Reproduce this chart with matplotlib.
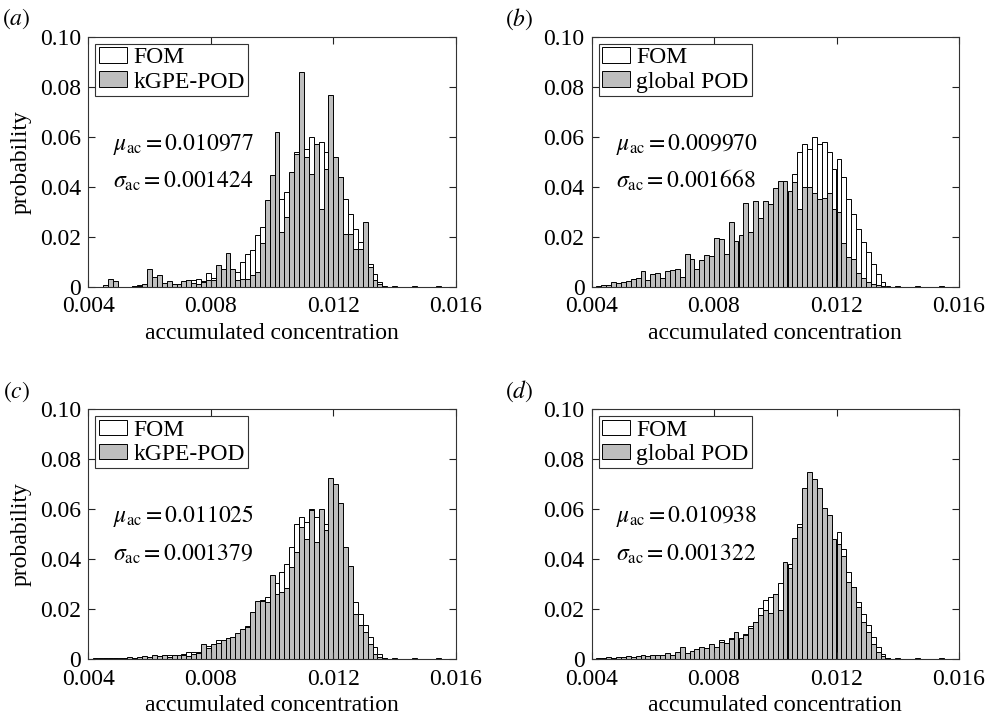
import numpy as np
import matplotlib.pyplot as plt

plt.rcParams['font.family'] = ['Liberation Serif', 'DejaVu Serif']
plt.rcParams['mathtext.fontset'] = 'stix'
plt.rcParams['font.size'] = 17

# histogram bins: 75 bins of width 1.6e-4 starting at 0.004
bin_start = 0.004
bin_width = 0.00016

# probability per bin, full order model (same reference in every panel)
fom = [0, 0, 0, 0.0003, 0.0005, 0.0005, 0, 0, 0, 0.0003, 0.0005, 0.0005, 0.0010, 0.0010, 0.0012,
       0.0012, 0.0015, 0.0012, 0.0012, 0.0020, 0.0027, 0.0027, 0.0030, 0.0024, 0.0053, 0.0035, 0.0075, 0.0065, 0.0085, 0.0065,
       0.0060, 0.0100, 0.0132, 0.0147, 0.0206, 0.0237, 0.0250, 0.0260, 0.0305, 0.0350, 0.0380, 0.0450, 0.0540, 0.0570, 0.0550,
       0.0600, 0.0570, 0.0580, 0.0540, 0.0470, 0.0510, 0.0440, 0.0350, 0.0290, 0.0230, 0.0180, 0.0138, 0.0090, 0.0050, 0.0020,
       0.0003, 0, 0.0003, 0, 0, 0, 0.0003, 0, 0, 0, 0, 0.0003, 0, 0, 0]

kgpe_a = [0, 0, 0, 0.0006, 0.0030, 0.0024, 0, 0, 0, 0.0003, 0.0003, 0.0012, 0.0070, 0.0040, 0.0048,
          0.0015, 0.0024, 0.0012, 0.0012, 0.0024, 0.0027, 0.0016, 0.0012, 0.0020, 0.0028, 0.0027, 0.0085, 0.0072, 0.0133, 0.0072,
          0.0028, 0.0030, 0.0030, 0.0048, 0.0060, 0.0175, 0.0348, 0.0445, 0.0620, 0.0220, 0.0280, 0.0460, 0.0530, 0.0860, 0.0520,
          0.0450, 0.0570, 0.0310, 0.0470, 0.0765, 0.0520, 0.0440, 0.0210, 0.0210, 0.0150, 0.0150, 0.0257, 0.0077, 0.0027, 0.0010,
          0, 0, 0, 0, 0, 0, 0, 0, 0, 0, 0, 0, 0, 0, 0]

gpod_b = [0, 0.0003, 0.0008, 0.0008, 0.0017, 0.0013, 0.0017, 0.0021, 0.0031, 0.0036, 0.0061, 0.0027, 0.0049, 0.0053, 0.0033,
          0.0061, 0.0068, 0.0071, 0.0040, 0.0131, 0.0109, 0.0072, 0.0105, 0.0128, 0.0123, 0.0195, 0.0191, 0.0131, 0.0257, 0.0181,
          0.0208, 0.0335, 0.0219, 0.0341, 0.0273, 0.0341, 0.0330, 0.0396, 0.0424, 0.0424, 0.0383, 0.0420, 0.0310, 0.0400, 0.0400,
          0.0376, 0.0350, 0.0353, 0.0373, 0.0310, 0.0300, 0.0176, 0.0120, 0.0110, 0.0053, 0.0033, 0.0020, 0.0010, 0.0005, 0.0003,
          0, 0, 0, 0, 0, 0, 0, 0, 0, 0, 0, 0, 0, 0, 0]

kgpe_c = [0, 0.0005, 0.0003, 0.0005, 0.0005, 0.0003, 0.0005, 0.0003, 0.0008, 0.0005, 0.0008, 0.0012, 0.0008, 0.0015, 0.0012,
          0.0015, 0.0008, 0.0015, 0.0017, 0.0017, 0.0012, 0.0020, 0.0025, 0.0060, 0.0045, 0.0060, 0.0065, 0.0075, 0.0085, 0.0090,
          0.0103, 0.0120, 0.0130, 0.0190, 0.0233, 0.0233, 0.0230, 0.0336, 0.0260, 0.0270, 0.0283, 0.0370, 0.0430, 0.0530, 0.0480,
          0.0596, 0.0470, 0.0600, 0.0516, 0.0723, 0.0700, 0.0625, 0.0450, 0.0373, 0.0180, 0.0135, 0.0110, 0.0060, 0.0020, 0.0008,
          0.0003, 0, 0, 0, 0, 0, 0, 0, 0, 0, 0, 0, 0, 0, 0]

gpod_d = [0, 0.0005, 0.0005, 0.0008, 0.0005, 0.0008, 0.0008, 0.0012, 0.0008, 0.0012, 0.0015, 0.0012, 0.0017, 0.0017, 0.0015,
          0.0025, 0.0017, 0.0030, 0.0048, 0.0025, 0.0033, 0.0040, 0.0050, 0.0045, 0.0060, 0.0050, 0.0070, 0.0065, 0.0080, 0.0107,
          0.0085, 0.0095, 0.0125, 0.0147, 0.0176, 0.0196, 0.0185, 0.0259, 0.0196, 0.0387, 0.0363, 0.0483, 0.0527, 0.0683, 0.0747,
          0.0719, 0.0683, 0.0603, 0.0576, 0.0479, 0.0459, 0.0412, 0.0310, 0.0287, 0.0210, 0.0149, 0.0110, 0.0060, 0.0030, 0.0012,
          0.0005, 0, 0, 0, 0, 0, 0, 0, 0, 0, 0, 0, 0, 0, 0]

panel_tags = ['a', 'b', 'c', 'd']
rom_series = [kgpe_a, gpod_b, kgpe_c, gpod_d]
rom_labels = ['kGPE-POD', 'global POD', 'kGPE-POD', 'global POD']
mu_values = ['0.010977', '0.009970', '0.011025', '0.010938']
sigma_values = ['0.001424', '0.001668', '0.001379', '0.001322']

xticks = [0.004, 0.008, 0.012, 0.016]
xtick_labels = ['0.004', '0.008', '0.012', '0.016']
yticks = [0, 0.02, 0.04, 0.06, 0.08, 0.10]
ytick_labels = ['0', '0.02', '0.04', '0.06', '0.08', '0.10']

W, H = 995, 719
fig = plt.figure(figsize=(W / 100, H / 100), dpi=100)

# axes boxes in pixels: left, top
boxes = [(88.3, 36.7), (591.5, 36.7), (88.3, 409.0), (591.5, 409.0)]
ax_w, ax_h = 367.5, 250.0

left_edges = bin_start + bin_width * np.arange(len(fom))

for k in range(4):
    lx, ty = boxes[k]
    ax = fig.add_axes([lx / W, 1 - (ty + ax_h) / H, ax_w / W, ax_h / H])

    b1 = ax.bar(left_edges, fom, width=bin_width, align='edge', color='white',
                edgecolor='black', linewidth=0.7, label='FOM')
    b2 = ax.bar(left_edges, rom_series[k], width=bin_width, align='edge', color='#bebebe',
                edgecolor='black', linewidth=0.7, label=rom_labels[k])

    ax.set_xlim(0.004, 0.016)
    ax.set_ylim(0, 0.1)
    ax.set_xticks(xticks)
    ax.set_xticklabels(xtick_labels)
    ax.set_yticks(yticks)
    ax.set_yticklabels(ytick_labels)
    ax.tick_params(direction='in', top=True, right=True, length=5, width=0.8,
                   colors='#222222', labelcolor='black', pad=5)
    ax.tick_params(axis='x', pad=7)
    for sp in ax.spines.values():
        sp.set_linewidth(0.8)
        sp.set_color('#333333')

    ax.set_xlabel('accumulated concentration', labelpad=4)
    if k % 2 == 0:
        ax.set_ylabel('probability', labelpad=6)

    leg = ax.legend(handles=[b1, b2], loc='upper left', borderaxespad=0.3,
                    fancybox=False, framealpha=1, edgecolor='#333333',
                    handlelength=1.2, handleheight=0.65, handletextpad=0.25,
                    labelspacing=0.12, borderpad=0.15)
    leg.get_frame().set_linewidth(0.8)

    ax.text(0.0048, 0.0547, r'$\mu_{\mathrm{ac}} = ' + mu_values[k] + '$', fontsize=17)
    ax.text(0.0048, 0.0394, r'$\sigma_{\mathrm{ac}} = ' + sigma_values[k] + '$', fontsize=17)

    fig.text((lx - 72) / W, 1 - (ty - 17.7) / H, r'$(' + panel_tags[k] + ')$',
             ha='center', va='center', fontsize=17)

fig.savefig('out.png', dpi=100)
